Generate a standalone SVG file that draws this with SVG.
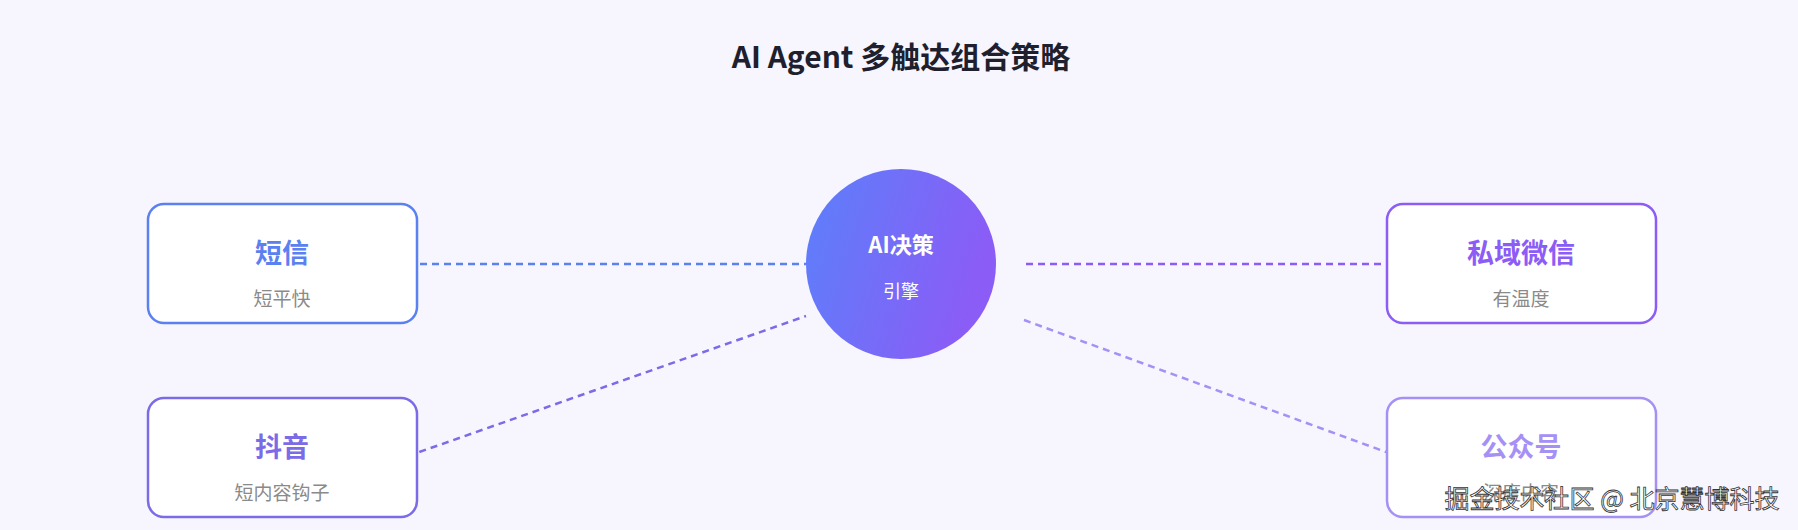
<svg xmlns="http://www.w3.org/2000/svg" width="1798" height="530" viewBox="0 0 1798 530">
<defs>
<linearGradient id="g" x1="0" y1="0" x2="1" y2="0.3"><stop offset="0" stop-color="#5B80FB"/><stop offset="1" stop-color="#8B5CF6"/></linearGradient>
<style>
text{font-family:"Noto Sans CJK SC","Liberation Sans",sans-serif;text-anchor:middle}
.box{fill:#fff;stroke-width:2.5}
.t{font-size:27px;font-weight:bold}
.s{font-size:19px;fill:#8a8a8a}
.c{fill:none;stroke-width:2.5;stroke-dasharray:7 5}
</style>
</defs>
<rect width="1798" height="530" fill="#F7F6FE"/>
<text x="901" y="68" font-size="30" font-weight="bold" fill="#1f1f2e">AI Agent 多触达组合策略</text>
<g id="connectors">
<line class="c" x1="408" y1="264" x2="806" y2="264" stroke="#5B80F0"/>
<line class="c" x1="408" y1="456" x2="806" y2="316" stroke="#7B6BE6"/>
<line class="c" x1="1026" y1="264" x2="1397" y2="264" stroke="#8B5CF6"/>
<line class="c" x1="1024" y1="320" x2="1397" y2="456" stroke="#A590F5"/>
</g>
<g id="center"><circle cx="901" cy="264" r="95" fill="url(#g)"/>
<text x="901" y="253" font-size="22" font-weight="bold" fill="#fff">AI决策</text>
<text x="901" y="298" font-size="18" fill="#fff">引擎</text></g>
<g id="sms"><rect class="box" x="148" y="204" width="269" height="119" rx="16" stroke="#5B80F0"/>
<text class="t" x="282" y="263" fill="#5B80F0">短信</text><text class="s" x="282" y="306">短平快</text></g>
<g id="douyin"><rect class="box" x="148" y="398" width="269" height="119" rx="16" stroke="#7B6BE6"/>
<text class="t" x="282" y="457" fill="#7B6BE6">抖音</text><text class="s" x="282" y="500">短内容钩子</text></g>
<g id="wechat"><rect class="box" x="1387" y="204" width="269" height="119" rx="16" stroke="#8B5CF6"/>
<text class="t" x="1521" y="263" fill="#8B5CF6">私域微信</text><text class="s" x="1521" y="306">有温度</text></g>
<g id="mp"><rect class="box" x="1387" y="398" width="269" height="119" rx="16" stroke="#A590F5"/>
<text class="t" x="1521" y="457" fill="#A590F5">公众号</text><text class="s" x="1521" y="500">深度内容</text></g>
<text x="1612" y="508" font-size="25" fill="#fff" stroke="#333" stroke-width="0.8">掘金技术社区 @ 北京慧博科技</text>
</svg>
